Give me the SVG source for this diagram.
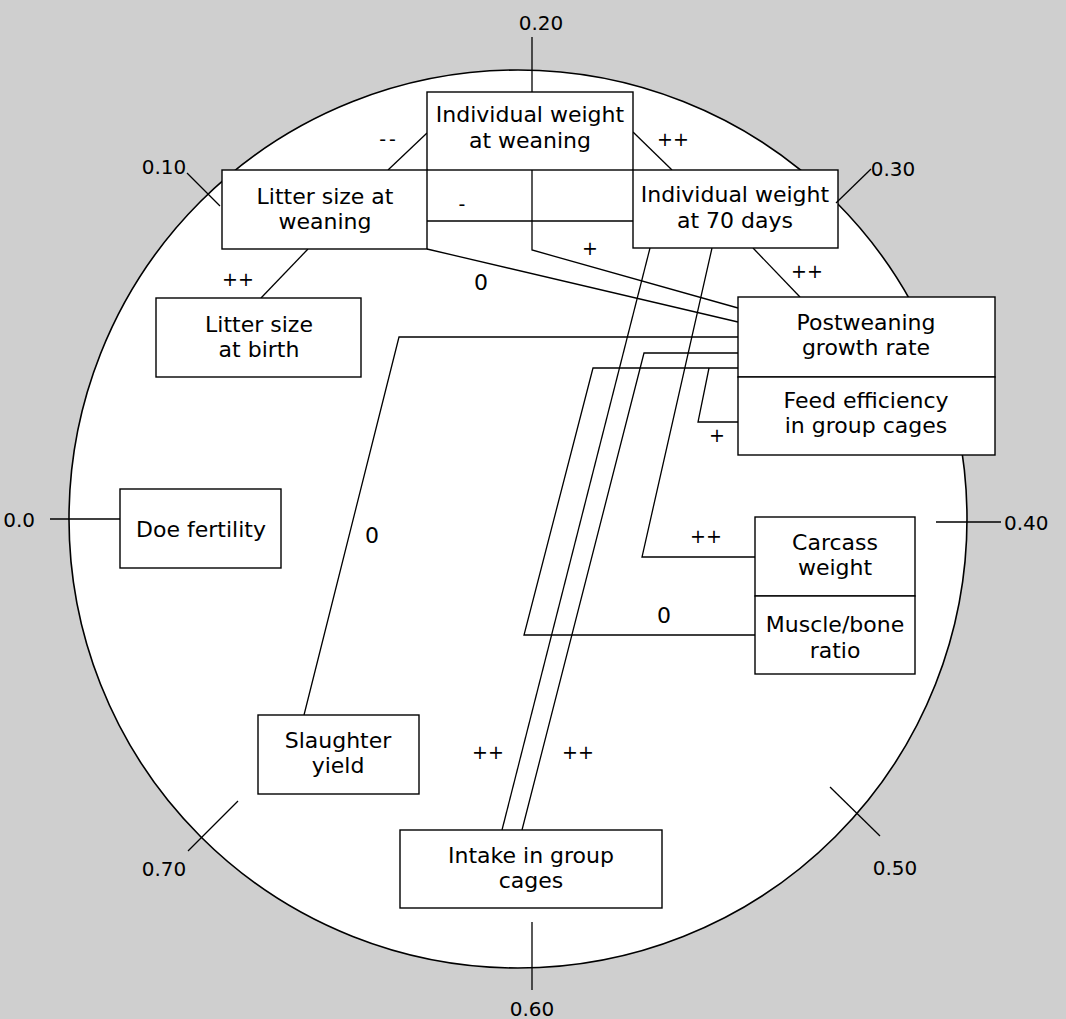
<svg xmlns="http://www.w3.org/2000/svg" width="1066" height="1019" viewBox="0 0 1066 1019">
  <style>
    .box { fill: #ffffff; stroke: #000000; stroke-width: 1.4; }
    .lbl { font-family: "DejaVu Sans", "Liberation Sans", sans-serif; font-size: 22px; fill: #000000; text-anchor: middle; }
    .sign { font-family: "DejaVu Sans", "Liberation Sans", sans-serif; font-size: 19px; fill: #000000; text-anchor: middle; }
    .zero { font-family: "DejaVu Sans", "Liberation Sans", sans-serif; font-size: 22px; fill: #000000; text-anchor: middle; }
    .tick { font-family: "DejaVu Sans", "Liberation Sans", sans-serif; font-size: 20px; fill: #000000; }
    .ln { fill: none; stroke: #000000; stroke-width: 1.3; }
  </style>

  <rect x="0" y="0" width="1066" height="1019" fill="#cfcfcf"/>
  <circle cx="518" cy="519" r="449" fill="#ffffff" stroke="#000000" stroke-width="1.6"/>

  <g id="connectors">
    <polyline class="ln" points="388,170 427,133"/>
    <polyline class="ln" points="633,132 672,170"/>
    <polyline class="ln" points="427,221 633,221"/>
    <polyline class="ln" points="532,170 532,250 738,308"/>
    <polyline class="ln" points="427,249 738,322"/>
    <polyline class="ln" points="308,249 261,298"/>
    <polyline class="ln" points="753,248 800,297"/>
    <polyline class="ln" points="738,337 399,337 304,715"/>
    <polyline class="ln" points="650,248 502,830"/>
    <polyline class="ln" points="738,353 644,353 522,830"/>
    <polyline class="ln" points="738,368 593,368 524,635 755,635"/>
    <polyline class="ln" points="709,368 698,422 738,422"/>
    <polyline class="ln" points="712,248 642,557 755,557"/>
    <text class="sign" x="389" y="146" letter-spacing="3">--</text>
    <text class="sign" x="673" y="146">++</text>
    <text class="sign" x="462" y="211">-</text>
    <text class="sign" x="590" y="255">+</text>
    <text class="zero" x="481" y="290">0</text>
    <text class="sign" x="238" y="286">++</text>
    <text class="sign" x="807" y="278">++</text>
    <text class="sign" x="717" y="442">+</text>
    <text class="zero" x="372" y="543">0</text>
    <text class="sign" x="706" y="543">++</text>
    <text class="zero" x="664" y="623">0</text>
    <text class="sign" x="488" y="759">++</text>
    <text class="sign" x="578" y="759">++</text>
  </g>

  <g id="node-individual-weight-weaning">
    <rect class="box" x="427" y="92" width="206" height="78"/>
    <text class="lbl" x="530" y="122">Individual weight</text>
    <text class="lbl" x="530" y="148">at weaning</text>
  </g>
  <g id="node-litter-size-weaning">
    <rect class="box" x="222" y="170" width="205" height="79"/>
    <text class="lbl" x="325" y="204">Litter size at</text>
    <text class="lbl" x="325" y="229">weaning</text>
  </g>
  <g id="node-individual-weight-70">
    <rect class="box" x="633" y="170" width="205" height="78"/>
    <text class="lbl" x="735" y="202">Individual weight</text>
    <text class="lbl" x="735" y="228">at 70 days</text>
  </g>
  <g id="node-litter-size-birth">
    <rect class="box" x="156" y="298" width="205" height="79"/>
    <text class="lbl" x="259" y="332">Litter size</text>
    <text class="lbl" x="259" y="357">at birth</text>
  </g>
  <g id="node-postweaning">
    <rect class="box" x="738" y="297" width="257" height="80"/>
    <text class="lbl" x="866" y="330">Postweaning</text>
    <text class="lbl" x="866" y="355">growth rate</text>
  </g>
  <g id="node-feed-efficiency">
    <rect class="box" x="738" y="377" width="257" height="78"/>
    <text class="lbl" x="866" y="408">Feed efficiency</text>
    <text class="lbl" x="866" y="433">in group cages</text>
  </g>
  <g id="node-doe-fertility">
    <rect class="box" x="120" y="489" width="161" height="79"/>
    <text class="lbl" x="201" y="537">Doe fertility</text>
  </g>
  <g id="node-carcass-weight">
    <rect class="box" x="755" y="517" width="160" height="79"/>
    <text class="lbl" x="835" y="550">Carcass</text>
    <text class="lbl" x="835" y="575">weight</text>
  </g>
  <g id="node-muscle-bone">
    <rect class="box" x="755" y="596" width="160" height="78"/>
    <text class="lbl" x="835" y="632">Muscle/bone</text>
    <text class="lbl" x="835" y="658">ratio</text>
  </g>
  <g id="node-slaughter-yield">
    <rect class="box" x="258" y="715" width="161" height="79"/>
    <text class="lbl" x="338" y="748">Slaughter</text>
    <text class="lbl" x="338" y="773">yield</text>
  </g>
  <g id="node-intake">
    <rect class="box" x="400" y="830" width="262" height="78"/>
    <text class="lbl" x="531" y="863">Intake in group</text>
    <text class="lbl" x="531" y="888">cages</text>
  </g>

  <g id="scale-ticks">
    <line class="ln" x1="50" y1="519" x2="120" y2="519"/>
    <line class="ln" x1="187" y1="173" x2="220" y2="206"/>
    <line class="ln" x1="532" y1="37" x2="532" y2="92"/>
    <line class="ln" x1="871" y1="169" x2="836" y2="203"/>
    <line class="ln" x1="936" y1="522" x2="1001" y2="522"/>
    <line class="ln" x1="830" y1="787" x2="880" y2="836"/>
    <line class="ln" x1="532" y1="922" x2="532" y2="990"/>
    <line class="ln" x1="238" y1="801" x2="188" y2="851"/>
    <text class="tick" x="35" y="527" text-anchor="end">0.0</text>
    <text class="tick" x="164" y="174" text-anchor="middle">0.10</text>
    <text class="tick" x="541" y="30" text-anchor="middle">0.20</text>
    <text class="tick" x="893" y="176" text-anchor="middle">0.30</text>
    <text class="tick" x="1004" y="530">0.40</text>
    <text class="tick" x="895" y="875" text-anchor="middle">0.50</text>
    <text class="tick" x="532" y="1016" text-anchor="middle">0.60</text>
    <text class="tick" x="164" y="876" text-anchor="middle">0.70</text>
  </g>
</svg>
